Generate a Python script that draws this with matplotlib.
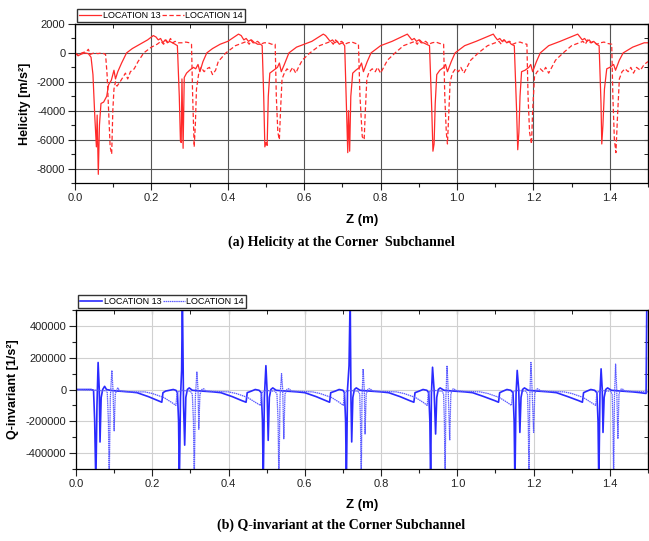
import matplotlib
matplotlib.use("Agg")
import matplotlib.pyplot as plt
from matplotlib.ticker import MultipleLocator, ScalarFormatter
import numpy as np

plt.rcParams['font.family'] = ['Liberation Sans', 'DejaVu Sans']
plt.rcParams['axes.unicode_minus'] = False

# Helicity, corner subchannel, location 13 (z [m], helicity [m/s2])
hel_13 = [
    (0.000, 0), (0.008, -200), (0.015, -100), (0.025, 0), (0.035, -50), (0.042, -300),
    (0.047, -1500), (0.052, -4500), (0.056, -6500), (0.058, -4300), (0.061, -8400),
    (0.064, -5000), (0.068, -3500), (0.075, -3400), (0.083, -3000), (0.088, -2200),
    (0.095, -1900), (0.102, -1200), (0.106, -1800), (0.112, -1300), (0.122, -700),
    (0.135, 0), (0.150, 300), (0.170, 600), (0.190, 900), (0.205, 1200), (0.212, 1100),
    (0.218, 900), (0.224, 1000), (0.230, 700), (0.236, 900), (0.242, 700), (0.248, 800),
    (0.255, 700), (0.262, 600), (0.268, 500),
    (0.273, -3000), (0.276, -6100), (0.278, -6200), (0.280, -1800), (0.283, -6600),
    (0.286, -1700), (0.292, -1400), (0.300, -1200), (0.310, -1000), (0.316, -1100),
    (0.322, -800), (0.327, -1300), (0.335, -600), (0.345, 0), (0.360, 300), (0.380, 600),
    (0.400, 800), (0.428, 1300), (0.435, 1200), (0.442, 900), (0.448, 1000), (0.454, 800),
    (0.460, 900), (0.466, 700), (0.472, 700), (0.478, 600), (0.486, 600), (0.490, 500),
    (0.494, -3000), (0.497, -6500), (0.500, -6200), (0.503, -6400), (0.506, -3000),
    (0.510, -1400), (0.520, -1200), (0.530, -1000), (0.535, -700), (0.540, -1300),
    (0.548, -800), (0.560, 0), (0.580, 400), (0.600, 600), (0.620, 800), (0.650, 1300),
    (0.656, 1200), (0.662, 1000), (0.668, 800), (0.674, 900), (0.680, 700), (0.686, 800),
    (0.692, 600), (0.700, 700), (0.706, 500),
    (0.711, -4000), (0.714, -6900), (0.716, -4000), (0.719, -6800), (0.722, -3000),
    (0.727, -1400), (0.735, -1200), (0.745, -1000), (0.750, -700), (0.755, -1300),
    (0.765, -600), (0.775, 0), (0.800, 500), (0.830, 800), (0.870, 1300), (0.876, 1100),
    (0.882, 900), (0.888, 1000), (0.894, 800), (0.900, 900), (0.906, 700), (0.912, 700),
    (0.920, 600), (0.928, 500),
    (0.934, -4000), (0.937, -6800), (0.940, -6300), (0.943, -3500), (0.947, -1500),
    (0.955, -1200), (0.965, -1000), (0.970, -800), (0.975, -1300), (0.985, -600),
    (0.995, 0), (1.020, 500), (1.050, 800), (1.095, 1300), (1.100, 1100), (1.106, 900),
    (1.112, 1000), (1.118, 800), (1.124, 900), (1.130, 700), (1.136, 800), (1.142, 600),
    (1.150, 500),
    (1.156, -4000), (1.159, -6700), (1.162, -5500), (1.165, -3000), (1.169, -1300),
    (1.178, -1200), (1.188, -1000), (1.193, -800), (1.198, -1300), (1.208, -600),
    (1.218, 0), (1.240, 500), (1.270, 800), (1.316, 1300), (1.322, 1100), (1.328, 900),
    (1.334, 1000), (1.340, 800), (1.346, 900), (1.352, 700), (1.358, 800), (1.365, 600),
    (1.372, 500),
    (1.377, -3500), (1.379, -6300), (1.382, -5000), (1.386, -2500), (1.392, -1100),
    (1.400, -1000), (1.410, -800), (1.415, -1200), (1.425, -500), (1.435, 0),
    (1.460, 400), (1.490, 700), (1.500, 700),
]

# Helicity, location 14
hel_14 = [
    (0.000, 0), (0.008, -150), (0.018, 0), (0.030, 100), (0.035, 250), (0.040, -100),
    (0.050, 0), (0.060, -50), (0.070, 0), (0.080, -100), (0.084, -1500), (0.088, -4000),
    (0.092, -6500), (0.096, -7000), (0.099, -4000), (0.102, -2500), (0.106, -2000),
    (0.110, -2300), (0.118, -2000), (0.125, -1700), (0.132, -1400), (0.138, -1800),
    (0.145, -1300), (0.155, -1100), (0.165, -600), (0.180, 0), (0.200, 400), (0.215, 600),
    (0.225, 800), (0.232, 600), (0.238, 900), (0.244, 700), (0.250, 1000), (0.256, 700),
    (0.262, 800), (0.270, 700), (0.280, 700), (0.290, 750), (0.300, 700), (0.305, 600),
    (0.308, -3000), (0.312, -6500), (0.315, -5000), (0.318, -2500), (0.324, -1400),
    (0.330, -1000), (0.338, -1300), (0.345, -1100), (0.352, -1000), (0.360, -1500),
    (0.368, -1200), (0.375, -600), (0.395, 0), (0.420, 500), (0.450, 800), (0.456, 600),
    (0.462, 900), (0.470, 700), (0.478, 800), (0.486, 600), (0.495, 700), (0.505, 700),
    (0.515, 600), (0.524, 600),
    (0.527, -3000), (0.531, -5500), (0.535, -6000), (0.538, -4000), (0.542, -1800),
    (0.548, -1400), (0.555, -1100), (0.563, -1300), (0.570, -1000), (0.578, -1400),
    (0.585, -1000), (0.595, -500), (0.615, 0), (0.640, 500), (0.670, 800), (0.676, 600),
    (0.682, 900), (0.690, 700), (0.698, 800), (0.706, 600), (0.715, 700), (0.725, 750),
    (0.735, 650), (0.742, 600),
    (0.746, -3000), (0.752, -5800), (0.757, -6000), (0.760, -4000), (0.764, -1800),
    (0.770, -1300), (0.778, -1100), (0.786, -1300), (0.792, -1000), (0.800, -1400),
    (0.808, -1000), (0.818, -500), (0.838, 0), (0.860, 500), (0.890, 800), (0.896, 600),
    (0.902, 900), (0.910, 700), (0.918, 800), (0.926, 600), (0.935, 700), (0.945, 750),
    (0.955, 650), (0.965, 600),
    (0.968, -3000), (0.972, -5500), (0.975, -6300), (0.978, -4500), (0.982, -2000),
    (0.988, -1400), (0.996, -1100), (1.004, -1300), (1.010, -1000), (1.018, -1400),
    (1.026, -1000), (1.036, -500), (1.056, 0), (1.080, 500), (1.110, 800), (1.116, 600),
    (1.122, 900), (1.130, 700), (1.138, 800), (1.146, 600), (1.155, 700), (1.165, 750),
    (1.175, 650), (1.183, 600),
    (1.186, -3000), (1.190, -5500), (1.195, -6300), (1.198, -4000), (1.203, -1600),
    (1.210, -1300), (1.218, -1100), (1.226, -1300), (1.232, -1000), (1.240, -1400),
    (1.248, -1000), (1.258, -500), (1.278, 0), (1.300, 500), (1.330, 800), (1.336, 600),
    (1.342, 900), (1.350, 700), (1.358, 800), (1.366, 600), (1.375, 700), (1.385, 750),
    (1.395, 650), (1.405, 600),
    (1.408, -3000), (1.412, -6000), (1.416, -6900), (1.420, -4500), (1.425, -1800),
    (1.432, -1300), (1.440, -1100), (1.448, -1300), (1.455, -1000), (1.462, -1400),
    (1.470, -1000), (1.480, -1200), (1.490, -800), (1.500, -600),
]

# Q-invariant, location 13 (z [m], Q [1/s2]); spikes run past the axis limits
q_13 = [
    (0.000, 0), (0.040, 0), (0.046, -5000), (0.049, -200000), (0.052, -600000),
    (0.055, -100000), (0.058, 170000), (0.061, 0), (0.063, -330000), (0.066, -50000),
    (0.070, 0), (0.075, 20000), (0.080, 0), (0.090, -5000), (0.110, -10000),
    (0.140, -15000), (0.160, -20000), (0.190, -45000), (0.215, -70000), (0.225, -80000),
    (0.228, -20000), (0.235, -10000), (0.245, -5000), (0.255, 0), (0.262, -5000),
    (0.266, -20000), (0.269, -200000), (0.271, -600000), (0.274, -50000), (0.277, 120000),
    (0.279, 600000), (0.282, -100000), (0.285, -350000), (0.288, -50000), (0.292, 0),
    (0.297, 10000), (0.305, -5000), (0.330, -10000), (0.360, -15000), (0.380, -20000),
    (0.410, -45000), (0.435, -70000), (0.446, -80000), (0.449, -20000), (0.460, -10000),
    (0.470, 0), (0.480, -5000), (0.486, -20000), (0.489, -200000), (0.491, -600000),
    (0.494, -50000), (0.498, 150000), (0.501, 0), (0.504, -320000), (0.507, -50000),
    (0.511, 0), (0.516, 10000), (0.525, -5000), (0.550, -10000), (0.580, -15000),
    (0.600, -20000), (0.630, -45000), (0.655, -70000), (0.665, -80000), (0.668, -20000),
    (0.680, -10000), (0.690, 0), (0.700, -5000), (0.704, -20000), (0.707, -200000),
    (0.709, -600000), (0.712, 0), (0.716, 150000), (0.719, 600000), (0.721, -50000),
    (0.723, -330000), (0.726, -50000), (0.730, 0), (0.735, 10000), (0.745, -5000),
    (0.770, -10000), (0.800, -15000), (0.820, -20000), (0.850, -45000), (0.875, -70000),
    (0.886, -80000), (0.889, -20000), (0.900, -10000), (0.910, 0), (0.920, -5000),
    (0.925, -20000), (0.928, -200000), (0.930, -600000), (0.932, -30000), (0.935, 140000),
    (0.939, 0), (0.943, -280000), (0.946, -50000), (0.950, 0), (0.955, 10000),
    (0.965, -5000), (0.990, -10000), (1.020, -15000), (1.040, -20000), (1.070, -45000),
    (1.098, -70000), (1.108, -80000), (1.111, -20000), (1.120, -10000), (1.130, 0),
    (1.140, -5000), (1.146, -20000), (1.149, -200000), (1.151, -600000), (1.154, -30000),
    (1.157, 120000), (1.161, 0), (1.164, -270000), (1.167, -50000), (1.171, 0),
    (1.176, 10000), (1.186, -5000), (1.210, -10000), (1.240, -15000), (1.260, -20000),
    (1.290, -45000), (1.318, -70000), (1.328, -80000), (1.331, -20000), (1.340, -10000),
    (1.350, 0), (1.360, -5000), (1.366, -20000), (1.369, -200000), (1.371, -600000),
    (1.374, -30000), (1.377, 130000), (1.380, 0), (1.382, -270000), (1.385, -50000),
    (1.389, 0), (1.394, 10000), (1.404, -5000), (1.430, -10000), (1.460, -15000),
    (1.480, -20000), (1.495, -25000), (1.497, 600000), (1.500, 600000),
]

# Q-invariant, location 14
q_14 = [
    (0.000, 0), (0.020, -2000), (0.040, -3000), (0.060, -5000), (0.070, -10000),
    (0.078, -5000), (0.082, -20000), (0.085, -200000), (0.087, -600000), (0.090, -50000),
    (0.094, 120000), (0.097, 0), (0.100, -260000), (0.103, -30000), (0.107, 0),
    (0.110, 10000), (0.115, -10000), (0.140, -15000), (0.180, -15000), (0.200, -25000),
    (0.230, -50000), (0.250, -80000), (0.262, -100000), (0.265, -20000), (0.272, -10000),
    (0.280, -5000), (0.290, -10000), (0.300, -10000), (0.305, -30000), (0.308, -200000),
    (0.310, -600000), (0.313, -50000), (0.317, 110000), (0.320, 0), (0.322, -250000),
    (0.325, -30000), (0.330, 0), (0.335, 5000), (0.340, -10000), (0.400, -15000),
    (0.420, -25000), (0.450, -50000), (0.470, -80000), (0.484, -100000), (0.487, -20000),
    (0.494, -10000), (0.500, -5000), (0.510, -10000), (0.522, -10000), (0.527, -30000),
    (0.530, -200000), (0.532, -600000), (0.535, -50000), (0.539, 100000), (0.542, 0),
    (0.545, -310000), (0.548, -30000), (0.553, 0), (0.558, 5000), (0.565, -10000),
    (0.620, -15000), (0.640, -25000), (0.670, -50000), (0.690, -80000), (0.701, -100000),
    (0.704, -20000), (0.710, -10000), (0.720, -5000), (0.730, -10000), (0.740, -10000),
    (0.744, -30000), (0.746, -200000), (0.748, -600000), (0.750, -50000), (0.753, 130000),
    (0.756, 0), (0.758, -280000), (0.761, -30000), (0.765, 0), (0.770, 5000),
    (0.780, -10000), (0.840, -15000), (0.860, -25000), (0.890, -50000), (0.910, -80000),
    (0.921, -100000), (0.924, -20000), (0.930, -10000), (0.940, -5000), (0.950, -10000),
    (0.960, -10000), (0.964, -30000), (0.966, -200000), (0.968, -600000), (0.970, -50000),
    (0.973, 150000), (0.976, 0), (0.980, -320000), (0.983, -30000), (0.987, 0),
    (0.990, 5000), (1.000, -10000), (1.060, -15000), (1.080, -25000), (1.110, -50000),
    (1.130, -80000), (1.142, -100000), (1.145, -20000), (1.150, -10000), (1.160, -5000),
    (1.170, -10000), (1.180, -10000), (1.184, -30000), (1.186, -200000), (1.188, -600000),
    (1.190, -50000), (1.193, 170000), (1.196, 0), (1.200, -270000), (1.203, -30000),
    (1.207, 0), (1.210, 5000), (1.220, -10000), (1.280, -15000), (1.300, -25000),
    (1.330, -50000), (1.350, -80000), (1.363, -100000), (1.366, -20000), (1.372, -10000),
    (1.380, -5000), (1.390, -10000), (1.402, -10000), (1.406, -30000), (1.408, -200000),
    (1.410, -600000), (1.412, -50000), (1.415, 160000), (1.418, 0), (1.421, -310000),
    (1.424, -30000), (1.428, 0), (1.432, 5000), (1.440, -10000), (1.500, -15000),
]

W, H = 649, 541
fig = plt.figure(figsize=(W / 100, H / 100), dpi=100)


def frac(left, top, right, bottom):
    return [left / W, 1 - bottom / H, (right - left) / W, (bottom - top) / H]


def style_axes(ax, ylim, ymajor, yminor, grid_color, grid_lw):
    ax.set_xlim(0, 1.5)
    ax.set_ylim(*ylim)
    ax.xaxis.set_major_locator(MultipleLocator(0.2))
    ax.xaxis.set_minor_locator(MultipleLocator(0.1))
    ax.yaxis.set_major_locator(MultipleLocator(ymajor))
    ax.yaxis.set_minor_locator(MultipleLocator(yminor))
    fmt = ScalarFormatter(useOffset=False)
    fmt.set_scientific(False)
    ax.yaxis.set_major_formatter(fmt)
    ax.grid(True, which='major', color=grid_color, lw=grid_lw)
    ax.set_axisbelow(True)
    ax.tick_params(which='both', direction='out', labelsize=8, colors='#222222', pad=2)
    ax.tick_params(which='major', length=5, width=0.8)
    ax.tick_params(which='minor', length=3, width=0.8)
    for s in ax.spines.values():
        s.set_linewidth(0.9)
    top = ax.secondary_xaxis('top')
    top.xaxis.set_major_locator(MultipleLocator(0.2))
    top.xaxis.set_minor_locator(MultipleLocator(0.1))
    top.tick_params(which='both', direction='in', labeltop=False, length=3)
    right = ax.secondary_yaxis('right')
    right.yaxis.set_major_locator(MultipleLocator(ymajor))
    right.yaxis.set_minor_locator(MultipleLocator(yminor))
    right.tick_params(which='both', direction='in', labelright=False, length=3)


def legend(ax, handles):
    ax.legend(handles=handles, labels=['LOCATION 13', 'LOCATION 14'], ncol=2,
              loc='lower left', bbox_to_anchor=(0.0, 1.0), fontsize=6.5,
              handlelength=2.4, handletextpad=0.2, columnspacing=0.2,
              borderpad=0.2, borderaxespad=0.25, fancybox=False,
              edgecolor='#333333', framealpha=1)


# (a) helicity
ax1 = fig.add_axes(frac(75, 24, 648, 183))
z, v = zip(*hel_13)
l1, = ax1.plot(z, v, color='#ff2a2a', lw=0.9)
z, v = zip(*hel_14)
l2, = ax1.plot(z, v, color='#ff2a2a', lw=0.9, dashes=(3.5, 2))
style_axes(ax1, (-9000, 2000), 2000, 1000, '#555555', 0.8)
ax1.set_ylabel('Helicity [m/s²]', fontsize=9, fontweight='bold')
ax1.yaxis.set_label_coords(-0.077, 0.5)
legend(ax1, [l1, l2])
fig.text(362 / W, 1 - 220 / H, 'Z (m)', ha='center', va='center', fontsize=9.5, fontweight='bold')
fig.text(341 / W, 1 - 242 / H, '(a) Helicity at the Corner  Subchannel', ha='center', va='center',
         fontsize=10, fontweight='bold', family='Liberation Serif')

# (b) Q-invariant
ax2 = fig.add_axes(frac(76, 310, 648, 469))
z, v = zip(*q_13)
b1, = ax2.plot(z, v, color='#2a2aff', lw=1.2)
z, v = zip(*q_14)
b2, = ax2.plot(z, v, color='#5c5cff', lw=0.9, ls=(0, (1.2, 0.5)))
style_axes(ax2, (-500000, 500000), 200000, 100000, '#d0d0d0', 0.8)
ax2.set_ylabel('Q-invariant [1/s²]', fontsize=9, fontweight='bold')
ax2.yaxis.set_label_coords(-0.1, 0.5)
legend(ax2, [b1, b2])
fig.text(362 / W, 1 - 505 / H, 'Z (m)', ha='center', va='center', fontsize=9.5, fontweight='bold')
fig.text(341 / W, 1 - 525 / H, '(b) Q-invariant at the Corner Subchannel', ha='center', va='center',
         fontsize=10, fontweight='bold', family='Liberation Serif')

fig.savefig('out.png', dpi=100)
